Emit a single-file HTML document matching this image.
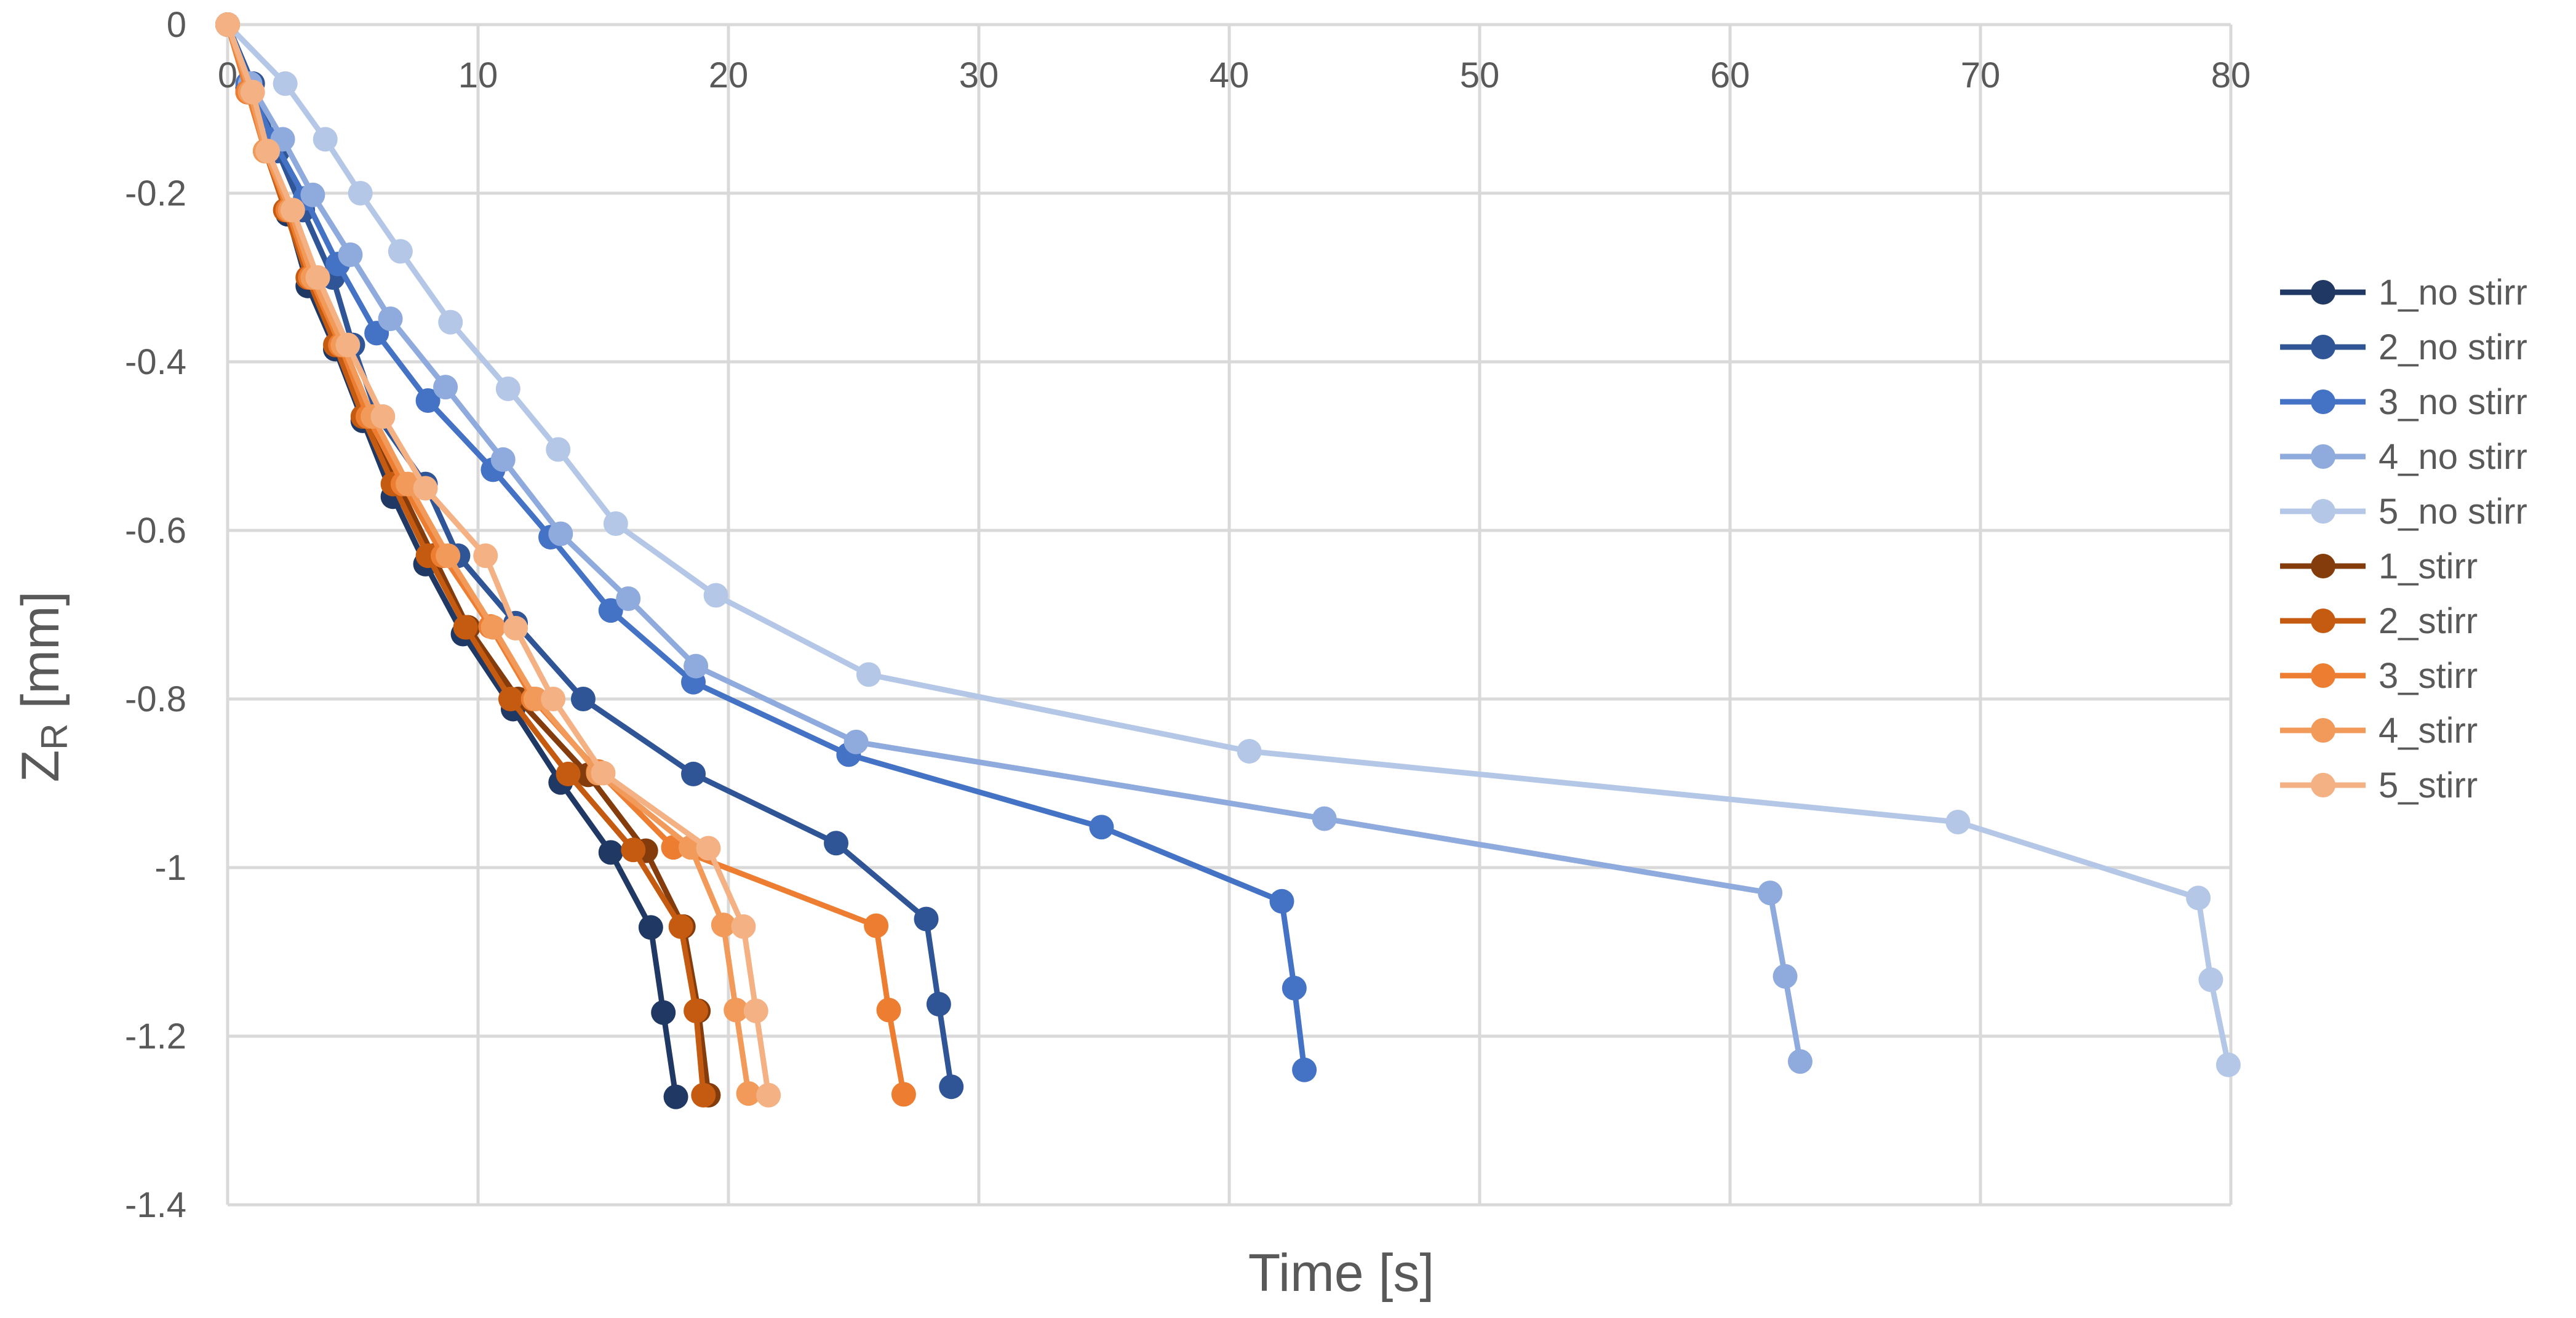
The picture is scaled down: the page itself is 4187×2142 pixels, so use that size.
<!DOCTYPE html>
<html><head><meta charset="utf-8"><style>
html,body{margin:0;padding:0;background:#fff;}
svg{display:block;font-family:"Liberation Sans",sans-serif;}
</style></head><body>
<svg id="chart" width="4187" height="2142" viewBox="0 0 4187 2142" xmlns="http://www.w3.org/2000/svg">
<g id="grid"></g>
<g id="xticks"></g>
<g id="yticks"></g>
<g id="series"></g>
<g id="legend"></g>
<text x="2180" y="2098" font-size="86" fill="#595959" text-anchor="middle">Time [s]</text>
<text transform="translate(95,1116) rotate(-90)" font-size="86" fill="#595959" text-anchor="middle">Z<tspan font-size="60" dy="14">R</tspan><tspan dy="-14"> [mm]</tspan></text>
</svg>
<script>
const xTicks=[0,10,20,30,40,50,60,70,80];
const yTicks=[0,-0.2,-0.4,-0.6,-0.8,-1,-1.2,-1.4];
const yTickLabels=["0","-0.2","-0.4","-0.6","-0.8","-1","-1.2","-1.4"];
const seriesNames=["1_no stirr","2_no stirr","3_no stirr","4_no stirr","5_no stirr","1_stirr","2_stirr","3_stirr","4_stirr","5_stirr"];
const seriesColors=["#203864","#2F5597","#4472C4","#8FAADC","#B4C7E7","#843C0C","#C55A11","#ED7D31","#F19A5A","#F4B183"];
const t1n=[0,0.8,1.6,2.4,3.2,4.3,5.4,6.6,7.9,9.4,11.4,13.3,15.3,16.9,17.4,17.9];
const z1n=[0,-0.075,-0.15,-0.225,-0.31,-0.385,-0.47,-0.56,-0.64,-0.723,-0.812,-0.899,-0.982,-1.071,-1.172,-1.272];
const t2n=[0,1.0,2.0,3.0,4.2,5.0,6.0,7.9,9.2,11.5,14.2,18.6,24.3,27.9,28.4,28.9];
const z2n=[0,-0.07,-0.15,-0.22,-0.30,-0.38,-0.465,-0.545,-0.63,-0.71,-0.80,-0.889,-0.971,-1.061,-1.162,-1.26];
const t3n=[0,0.8,1.8,3.1,4.4,5.95,8.0,10.6,12.9,15.3,18.6,24.8,34.9,42.1,42.6,43.0];
const z3n=[0,-0.07,-0.136,-0.206,-0.284,-0.366,-0.446,-0.528,-0.608,-0.695,-0.78,-0.866,-0.952,-1.04,-1.143,-1.24];
const t4n=[0,0.9,2.2,3.4,4.9,6.5,8.7,11.0,13.3,16.0,18.7,25.1,43.8,61.6,62.2,62.8];
const z4n=[0,-0.07,-0.136,-0.202,-0.273,-0.349,-0.43,-0.516,-0.604,-0.681,-0.761,-0.851,-0.942,-1.03,-1.129,-1.23];
const t5n=[0,2.3,3.9,5.3,6.9,8.9,11.2,13.2,15.5,19.5,25.6,40.8,69.1,78.7,79.2,79.9];
const z5n=[0,-0.07,-0.136,-0.2,-0.269,-0.353,-0.432,-0.504,-0.592,-0.677,-0.771,-0.862,-0.946,-1.036,-1.133,-1.234];
const t1s=[0,0.8,1.5,2.4,3.3,4.4,5.5,6.8,8.2,9.6,11.6,14.4,16.7,18.2,18.8,19.2];
const z1s=[0,-0.08,-0.15,-0.22,-0.30,-0.38,-0.465,-0.545,-0.63,-0.715,-0.80,-0.89,-0.98,-1.07,-1.17,-1.27];
const t2s=[0,0.8,1.5,2.3,3.2,4.3,5.4,6.6,8.0,9.5,11.3,13.6,16.2,18.1,18.7,19.0];
const z2s=[0,-0.08,-0.15,-0.22,-0.30,-0.38,-0.465,-0.545,-0.63,-0.715,-0.80,-0.889,-0.979,-1.07,-1.17,-1.27];
const t3s=[0,0.8,1.5,2.4,3.3,4.5,5.6,7.0,8.6,10.5,12.2,14.8,17.8,25.9,26.4,27.0];
const z3s=[0,-0.08,-0.15,-0.22,-0.30,-0.38,-0.465,-0.545,-0.63,-0.714,-0.80,-0.886,-0.976,-1.069,-1.169,-1.269];
const t4s=[0,0.9,1.5,2.5,3.4,4.6,5.8,7.2,8.8,10.6,12.3,14.8,18.5,19.8,20.3,20.8];
const z4s=[0,-0.08,-0.15,-0.22,-0.30,-0.38,-0.465,-0.545,-0.63,-0.715,-0.80,-0.888,-0.976,-1.068,-1.169,-1.268];
const t5s=[0,1.0,1.6,2.6,3.6,4.8,6.2,7.9,10.3,11.5,13.0,15.0,19.2,20.6,21.1,21.6];
const z5s=[0,-0.08,-0.15,-0.22,-0.30,-0.38,-0.465,-0.55,-0.63,-0.716,-0.80,-0.888,-0.977,-1.07,-1.17,-1.27];
const seriesT=[t1n,t2n,t3n,t4n,t5n,t1s,t2s,t3s,t4s,t5s];
const seriesZ=[z1n,z2n,z3n,z4n,z5n,z1s,z2s,z3s,z4s,z5s];

const NS="http://www.w3.org/2000/svg";
const X0=370,X1=3626,Y0=40,Y1=1958;
function xs(v){return X0+(v-0)/(80-0)*(X1-X0);}
function ys(v){return Y0+(0-v)/(1.4)*(Y1-Y0);}
function mk(tag,attrs,parent){const e=document.createElementNS(NS,tag);for(const k in attrs)e.setAttribute(k,attrs[k]);parent.appendChild(e);return e;}

const grid=document.getElementById('grid');
const xt=document.getElementById('xticks');
const yt=document.getElementById('yticks');
xTicks.forEach(v=>{
  const l=mk('line',{x1:xs(v),x2:xs(v),y1:Y0,y2:Y1,stroke:'#d9d9d9','stroke-width':5},grid);
  
  
  const t=mk('text',{x:xs(v),y:142,'font-size':58,fill:'#595959','text-anchor':'middle'},xt);
  t.textContent=String(v);
  
  
});
yTicks.forEach((v,i)=>{
  const l=mk('line',{x1:X0,x2:X1,y1:ys(v),y2:ys(v),stroke:'#d9d9d9','stroke-width':5},grid);
  
  
  const t=mk('text',{x:303,y:ys(v)+20,'font-size':58,fill:'#595959','text-anchor':'end'},yt);
  t.textContent=yTickLabels[i];
  
  
});
const sg=document.getElementById('series');
const lg=document.getElementById('legend');
seriesNames.forEach((name,i)=>{
  const g=mk('g',{},sg);
  
  
  const T=seriesT[i],Z=seriesZ[i];
  const pts=T.map((t,j)=>xs(t)+','+ys(Z[j])).join(' ');
  const pl=mk('polyline',{points:pts,fill:'none',stroke:seriesColors[i],'stroke-width':9,'stroke-linejoin':'round'},g);
  
  
  T.forEach((t,j)=>{
    const c=mk('circle',{cx:xs(t),cy:ys(Z[j]),r:20,fill:seriesColors[i]},g);
    
    
  });
  const ly=475+i*89;
  const le=mk('g',{},lg);
  
  
  mk('line',{x1:3706,x2:3845,y1:ly,y2:ly,stroke:seriesColors[i],'stroke-width':9},le);
  mk('circle',{cx:3776,cy:ly,r:20,fill:seriesColors[i]},le);
  const tx=mk('text',{x:3866,y:ly+20,'font-size':58,fill:'#595959'},le);
  tx.textContent=name;
});
</script>
</body></html>
